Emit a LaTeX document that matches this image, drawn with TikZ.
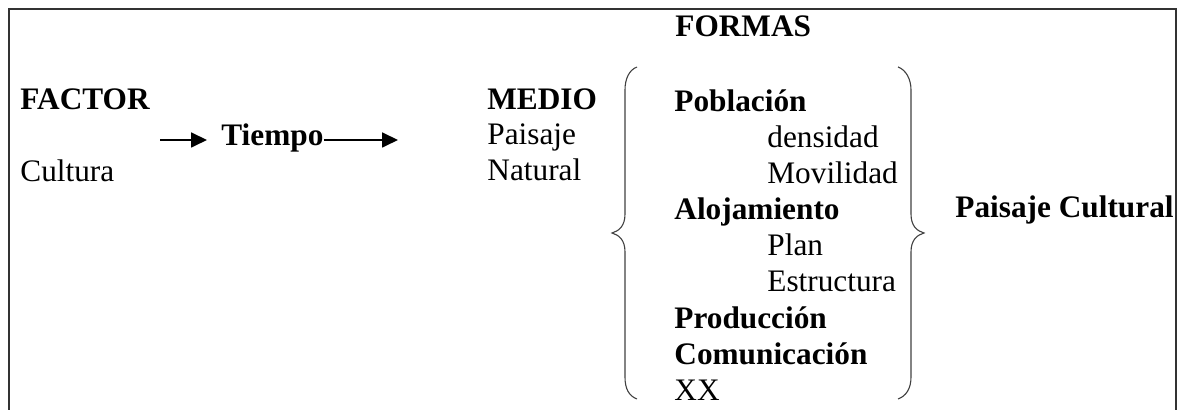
\documentclass[tikz,border=0pt]{standalone}
\usepackage{fontspec}
\setmainfont{Liberation Serif}
\usetikzlibrary{arrows.meta}

\begin{document}
\begin{tikzpicture}[x=0.5pt,y=-0.5pt,
  every node/.style={inner sep=0pt,anchor=base west,font=\fontsize{15.65}{18}\selectfont},
  titulo/.style={font=\fontsize{15.65}{18}\selectfont\bfseries},
  flecha/.style={-{Triangle[length=8pt,width=7.5pt]},line width=0.9pt},
  llave/.style={line width=0.55pt,black!75},
  marco/.style={line width=0.9pt,black!80}]

  \useasboundingbox (0,0) rectangle (1179,410);
  \draw [marco] (9,410) -- (9,9) -- (1176,9) -- (1176,410);

  % Factor y medio
  \node [titulo] (fac) at (20,110) {FACTOR};
  \node (cul) at (20,182) {Cultura};
  \node [titulo] (tie) at (221,146) {Tiempo};
  \node [titulo] (med) at (487,110) {MEDIO};
  \node (pai) at (487,145) {Paisaje};
  \node (nat) at (487,181) {Natural};

  \coordinate (ini) at (160,140);
  \coordinate (fin) at (398,140);
  \draw [flecha,shorten >=7pt] (ini) -- (tie.west |- ini);
  \draw [flecha] (tie.east |- fin) -- (fin);

  % Formas
  \node [titulo] (for) at (675,37) {FORMAS};
  \node [titulo] (pob) at (674,112) {Poblaci\'on};
  \node (den) at (767,148) {densidad};
  \node (mov) at (767,184) {Movilidad};
  \node [titulo] (alo) at (674,220) {Alojamiento};
  \node (pla) at (767,256) {Plan};
  \node (est) at (767,292) {Estructura};
  \node [titulo] (pro) at (674,329) {Producci\'on};
  \node [titulo] (com) at (674,365) {Comunicaci\'on};
  \node (xx) at (674,401) {XX};

  \node [titulo] (pcu) at (955,218) {Paisaje Cultural};

  % Llaves
  \draw [llave] (637,67) .. controls (629,70) and (625,79) .. (625,90)
    -- (625,214) .. controls (625,226) and (619,231) .. (612,233)
    .. controls (619,235) and (625,240) .. (625,252)
    -- (625,377) .. controls (625,389) and (629,396) .. (637,399);
  \draw [llave] (898,67) .. controls (906,70) and (911,79) .. (911,90)
    -- (911,214) .. controls (911,226) and (917,231) .. (924,233)
    .. controls (917,235) and (911,240) .. (911,252)
    -- (911,377) .. controls (911,389) and (906,396) .. (898,399);

\end{tikzpicture}
\end{document}
